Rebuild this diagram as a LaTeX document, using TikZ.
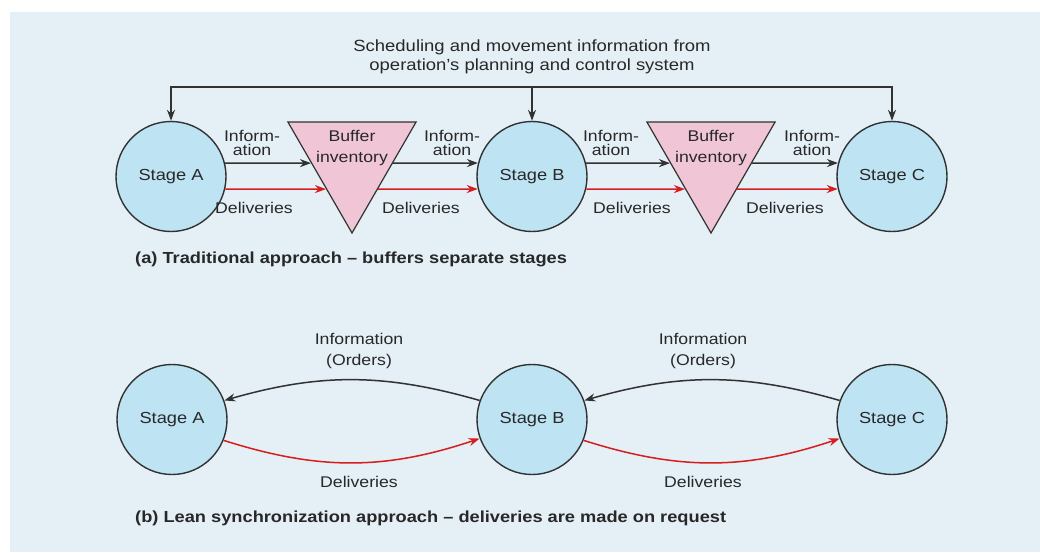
\documentclass[tikz,border=0pt]{standalone}
\usepackage{fontspec}
\setmainfont{Liberation Sans}[FakeStretch=1.14]
\usetikzlibrary{arrows.meta,shapes.geometric,calc}
\definecolor{bg}{RGB}{228,239,246}
\definecolor{stagefill}{RGB}{190,228,244}
\definecolor{buffill}{RGB}{240,198,215}
\definecolor{edge}{RGB}{50,50,50}
\definecolor{txt}{RGB}{40,40,40}
\definecolor{delred}{RGB}{214,30,30}
\begin{document}
\begin{tikzpicture}[x=1pt,y=-1pt,
  stage/.style={circle,draw=edge,fill=stagefill,line width=1.4pt,minimum size=110pt,inner sep=0pt,text=txt,font=\fontsize{16}{18}\selectfont},
  buffer/.style={regular polygon,regular polygon sides=3,shape border rotate=180,draw=edge,fill=buffill,line width=1.2pt,minimum size=148pt,inner sep=0pt},
  info/.style={draw=edge,line width=1.5pt,-{Stealth[length=11pt,width=8pt]}},
  deliv/.style={draw=delred,line width=1.5pt,-{Stealth[length=11pt,width=8pt]}},
  lbl/.style={align=center,text=txt,inner sep=0pt,font=\fontsize{15.5}{14}\selectfont},
  captiontext/.style={anchor=west,text=txt,inner sep=0pt,font=\bfseries\fontsize{16}{18}\selectfont}]
\useasboundingbox[fill=white] (0,0) rectangle (1040,552);
\fill[bg] (10,12) rectangle (1040,552);

% ---------- (a) ----------
\node[stage] (A) at (171,176.5) {Stage A};
\node[stage] (B) at (532,176.5) {Stage B};
\node[stage] (C) at (892,176.5) {Stage C};
\node[buffer] (buf1) at (352,159) {};
\node[buffer] (buf2) at (711,159) {};
\node[lbl,font=\fontsize{15.5}{21}\selectfont] (bt1) at (352,148) {Buffer\\inventory};
\node[lbl,font=\fontsize{15.5}{21}\selectfont] (bt2) at (711,148) {Buffer\\inventory};

\coordinate (b1i) at ($(buf1.corner 3)!0.37!(buf1.corner 1)$);
\coordinate (b1d) at ($(buf1.corner 3)!0.60!(buf1.corner 1)$);
\coordinate (b1io) at ($(buf1.corner 2)!0.37!(buf1.corner 1)$);
\coordinate (b1do) at ($(buf1.corner 2)!0.60!(buf1.corner 1)$);
\coordinate (b2i) at ($(buf2.corner 3)!0.37!(buf2.corner 1)$);
\coordinate (b2d) at ($(buf2.corner 3)!0.60!(buf2.corner 1)$);
\coordinate (b2io) at ($(buf2.corner 2)!0.37!(buf2.corner 1)$);
\coordinate (b2do) at ($(buf2.corner 2)!0.60!(buf2.corner 1)$);

\draw[info] (A.14) -- (b1i);
\draw[deliv] (A.347) -- (b1d);
\draw[info] (b1io) -- (B.166);
\draw[deliv] (b1do) -- (B.193);
\draw[info] (B.14) -- (b2i);
\draw[deliv] (B.347) -- (b2d);
\draw[info] (b2io) -- (C.166);
\draw[deliv] (b2do) -- (C.193);

\node[lbl] (i1) at (252,143) {Inform-\\ation};
\node[lbl] (i2) at (452,143) {Inform-\\ation};
\node[lbl] (i3) at (611,143) {Inform-\\ation};
\node[lbl] (i4) at (812,143) {Inform-\\ation};
\node[lbl] (d1) at (254,208) {Deliveries};
\node[lbl] (d2) at (421,208) {Deliveries};
\node[lbl] (d3) at (632,208) {Deliveries};
\node[lbl] (d4) at (785,208) {Deliveries};

\coordinate (bus) at (532,87);
\draw[info] (bus) -| (A.north);
\draw[info] (bus) -| (C.north);
\draw[info] (bus) -- (B.north);
\node[lbl,font=\fontsize{16.2}{19}\selectfont] (sched) at (532,57) {Scheduling and movement information from\\operation's planning and control system};

\node[captiontext] (capa) at (135,259) {(a) Traditional approach – buffers separate stages};

% ---------- (b) ----------
\node[stage] (A2) at (172,419.5) {Stage A};
\node[stage] (B2) at (532,419.5) {Stage B};
\node[stage] (C2) at (892,419.5) {Stage C};

\draw[info] (B2.160) to[bend right=16] (A2.20);
\draw[deliv] (A2.338) to[bend right=18] (B2.200);
\draw[info] (C2.160) to[bend right=16] (B2.20);
\draw[deliv] (B2.338) to[bend right=18] (C2.200);

\node[lbl,font=\fontsize{15.5}{21}\selectfont] (o1) at (359,351) {Information\\(Orders)};
\node[lbl,font=\fontsize{15.5}{21}\selectfont] (o2) at (703,351) {Information\\(Orders)};
\node[lbl] (e1) at (359,482) {Deliveries};
\node[lbl] (e2) at (703,482) {Deliveries};

\node[captiontext] (capb) at (135,518) {(b) Lean synchronization approach – deliveries are made on request};
\end{tikzpicture}
\end{document}
